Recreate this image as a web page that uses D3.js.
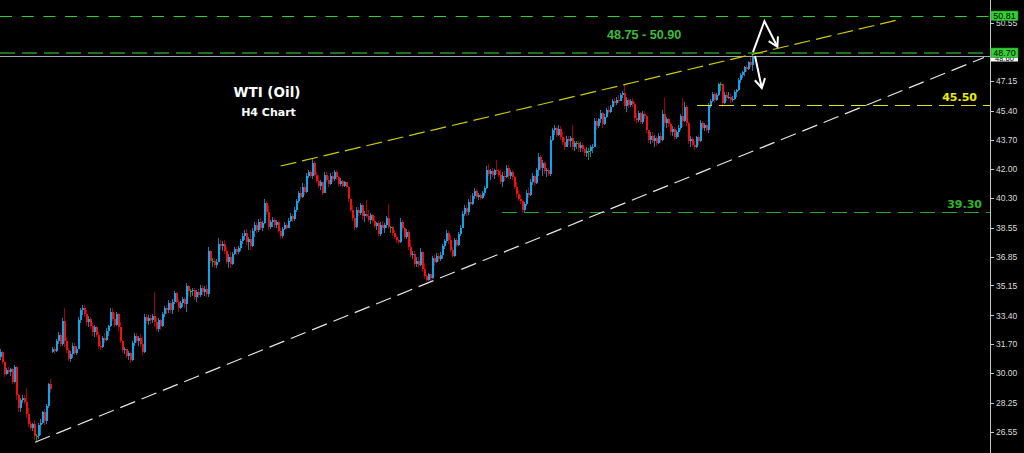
<!DOCTYPE html>
<html><head><meta charset="utf-8">
<script src="https://cdn.jsdelivr.net/npm/d3@7"></script>
<style>html,body{margin:0;padding:0;background:#000;overflow:hidden}</style>
</head><body>
<svg id="c" width="1024" height="453"></svg>
<script>
// ---------- DATA (WTI H4) ----------
const opens=[
30.95,31.25,30.65,29.95,30.20,30.05,30.25,29.50,30.35,28.70,
27.95,28.40,28.55,28.30,27.60,27.00,26.80,27.00,26.30,26.30,
26.95,27.10,27.70,27.20,28.05,29.35,31.25,31.45,31.30,31.90,
32.25,31.70,33.05,31.90,31.35,30.85,31.15,31.60,31.20,31.45,
33.10,33.70,33.85,33.45,33.00,33.20,32.75,32.40,32.70,32.25,
31.60,31.55,32.05,31.95,32.50,32.75,33.60,33.20,32.85,33.45,
32.70,31.90,31.35,31.40,31.00,31.20,30.75,31.75,32.20,31.90,
32.05,31.70,31.25,33.30,33.05,33.25,33.10,33.35,33.00,32.60,
33.10,32.75,33.50,33.80,33.70,34.15,33.70,34.20,34.70,34.20,
33.85,34.10,34.35,34.05,35.10,34.80,34.80,34.90,34.45,34.75,
34.60,35.00,34.75,34.95,34.65,37.20,36.60,36.60,36.35,36.55,
37.60,37.45,37.60,37.15,36.55,36.85,36.40,37.00,37.30,37.10,
37.35,37.75,38.05,38.25,37.70,37.85,37.45,38.35,38.70,38.40,
38.90,38.55,38.80,40.00,39.45,38.60,38.85,39.00,38.70,38.90,
38.35,38.05,38.45,38.70,38.55,38.95,39.25,39.05,39.60,40.10,
40.55,40.35,40.95,40.65,41.55,41.80,41.60,42.35,41.65,41.30,
41.00,41.20,40.60,41.65,41.35,41.10,41.60,41.40,41.80,41.50,
41.10,41.30,41.00,41.20,40.95,40.20,39.60,39.10,38.60,39.55,
39.40,39.85,39.20,39.35,39.25,39.00,39.30,38.95,38.65,38.80,
38.15,38.70,38.55,38.70,39.10,38.60,38.60,38.20,38.00,37.80,
37.70,38.90,38.55,38.00,38.30,37.40,36.95,37.00,36.40,36.60,
36.35,37.10,36.10,35.70,35.50,35.80,35.60,36.75,36.50,36.90,
36.70,36.95,37.45,37.75,38.25,37.80,37.25,36.90,37.80,37.55,
38.15,38.55,39.35,39.70,39.45,40.05,39.95,40.40,40.70,40.35,
40.45,40.30,40.55,40.85,41.95,41.70,41.85,41.65,41.90,41.85,
41.65,41.25,41.60,41.50,42.05,41.55,41.80,41.50,40.95,40.50,
40.25,40.10,39.55,39.95,40.55,40.45,41.25,41.55,41.15,41.90,
42.70,42.05,42.35,41.85,41.95,41.70,43.70,44.25,44.40,44.00,
44.35,43.85,43.55,43.30,43.75,43.60,43.80,43.30,43.50,43.50,
43.20,43.40,43.15,42.95,43.05,43.05,43.25,43.30,44.80,44.50,
44.90,45.30,44.60,45.05,45.45,45.35,45.65,45.95,45.85,46.05,
46.00,46.35,46.45,45.70,46.05,45.75,45.95,45.80,44.95,44.85,
45.25,44.75,45.20,45.10,44.25,43.70,43.95,43.65,43.80,43.50,
43.95,43.70,45.20,44.70,44.90,44.60,44.15,44.35,43.85,44.15,
44.40,45.10,44.80,45.65,44.70,43.65,43.75,43.40,43.25,43.85,
43.60,44.70,44.40,44.55,44.30,45.70,45.95,46.40,46.05,46.30,
46.95,46.95,45.85,46.35,46.15,46.20,46.05,46.10,46.50,46.60,
47.20,47.50,47.65,47.95,47.85,48.25,48.10];
const highs=[
31.45,31.30,30.70,30.30,30.35,30.30,30.30,30.50,30.40,28.80,
28.55,28.70,28.70,29.15,27.95,27.20,27.10,27.25,26.45,27.05,
27.30,27.80,27.90,28.20,29.45,29.65,31.55,31.60,32.00,32.40,
32.35,33.25,33.80,32.10,31.50,31.30,31.80,31.75,31.60,33.30,
33.85,34.00,34.00,33.70,33.35,33.30,33.00,32.85,32.80,32.40,
31.90,32.20,32.35,32.65,32.85,33.80,33.80,33.55,33.60,33.55,
33.00,31.95,31.55,31.45,31.30,31.25,31.90,32.35,32.35,32.20,
32.30,32.10,33.50,33.45,33.40,33.40,33.50,34.75,33.30,33.25,
33.20,33.60,33.95,34.00,34.30,34.25,34.35,34.85,34.75,34.30,
34.25,34.45,34.45,35.30,35.20,34.95,35.00,35.00,34.90,34.95,
35.15,35.15,35.10,35.15,37.40,37.25,36.75,36.75,36.70,37.95,
37.80,37.75,37.80,37.40,37.00,37.10,37.10,37.40,37.40,37.45,
37.85,38.20,38.40,38.45,38.00,38.40,38.50,38.85,38.85,39.05,
39.10,38.95,40.25,40.10,39.90,39.00,39.15,39.10,39.00,38.95,
38.50,38.60,38.85,38.80,39.10,39.40,39.35,39.75,40.25,40.70,
40.90,41.15,41.10,41.75,41.90,41.95,42.60,42.45,41.80,41.60,
41.35,41.25,41.80,41.80,41.60,41.75,41.80,41.90,41.95,41.55,
41.45,41.35,41.30,41.25,41.00,40.25,39.90,39.30,39.75,39.75,
40.00,39.95,39.50,40.15,39.55,39.40,39.35,39.25,38.90,38.95,
38.85,38.95,38.80,39.25,39.95,38.65,38.65,38.40,38.10,37.90,
39.10,39.00,38.60,38.45,38.40,37.80,37.15,37.20,36.80,36.80,
37.35,37.15,36.45,35.85,35.90,35.85,36.90,36.95,37.05,37.05,
37.10,37.60,37.90,38.40,38.35,38.10,37.40,37.95,37.95,38.30,
38.70,39.50,39.85,39.85,40.20,40.45,40.55,40.85,40.80,40.60,
40.55,40.70,41.00,42.15,42.30,42.00,42.05,42.00,42.50,42.00,
41.95,41.80,41.85,42.20,42.20,41.90,41.90,41.55,41.20,40.75,
40.45,40.15,40.05,40.75,40.90,41.40,41.75,41.65,42.05,42.95,
42.80,42.50,42.45,42.05,42.05,43.95,44.40,44.55,44.50,44.55,
44.50,44.15,43.85,43.90,43.95,43.95,44.55,43.65,43.60,43.65,
43.55,43.50,43.30,43.25,43.20,43.40,43.45,45.00,44.95,45.00,
45.45,45.35,45.20,45.55,45.70,45.75,46.10,46.15,46.20,46.30,
46.45,46.55,46.90,46.20,46.15,46.10,46.15,45.90,45.30,45.40,
45.35,45.40,45.40,45.15,44.30,44.15,44.15,44.00,43.95,44.10,
44.15,45.45,46.15,45.05,45.00,44.75,44.50,44.45,44.30,44.55,
45.20,46.15,45.90,45.75,44.80,43.90,43.85,43.60,43.95,44.00,
44.85,44.80,44.70,44.65,45.85,46.10,46.50,46.50,46.45,47.05,
47.10,47.00,46.50,46.50,46.50,46.40,46.25,46.60,46.70,47.30,
47.60,47.75,48.05,48.10,48.35,48.55,48.65];
const lows=[
30.80,30.55,29.75,29.90,29.95,29.85,29.35,29.45,28.45,27.75,
27.75,28.25,28.20,27.40,26.85,26.65,26.60,26.10,26.05,26.15,
26.35,27.00,26.95,27.00,27.95,28.85,31.20,31.15,31.25,31.70,
31.55,31.60,31.55,31.20,30.70,30.65,30.90,31.05,31.05,31.40,
32.95,33.40,33.30,32.80,32.70,32.60,32.20,32.15,32.10,31.45,
31.35,31.50,31.80,31.90,32.20,32.70,33.05,32.70,32.80,32.50,
31.75,31.20,31.15,30.90,30.75,30.60,30.70,31.60,31.75,31.60,
31.55,31.05,31.20,32.90,32.85,32.90,32.95,32.70,32.45,32.40,
32.55,32.70,33.30,33.45,33.55,33.55,33.45,34.05,34.10,33.60,
33.75,33.90,33.85,33.60,34.55,34.50,34.55,34.30,34.20,34.40,
34.50,34.60,34.55,34.50,34.50,36.45,36.25,36.20,36.20,36.50,
37.25,37.20,37.00,36.40,36.20,36.20,36.35,36.95,36.95,37.00,
37.20,37.60,37.80,37.55,37.25,37.25,37.40,38.00,38.20,38.30,
38.40,38.35,38.75,39.30,38.40,38.45,38.60,38.55,38.50,38.20,
37.85,37.95,38.40,38.40,38.50,38.85,38.90,38.95,39.45,40.00,
40.20,40.30,40.45,40.60,41.45,41.45,41.40,41.50,41.15,40.85,
40.75,40.45,40.55,41.20,40.95,41.05,41.20,41.30,41.35,40.95,
41.00,40.90,40.90,40.85,40.05,39.45,38.95,38.40,38.55,39.20,
39.30,39.00,38.90,39.10,38.85,38.75,38.80,38.50,38.40,38.00,
38.05,38.40,38.25,38.55,38.45,38.25,38.05,37.85,37.65,37.60,
37.65,38.40,37.85,37.90,37.25,36.80,36.70,36.25,36.25,36.20,
36.30,35.95,35.55,35.35,35.40,35.40,35.55,36.30,36.45,36.55,
36.60,36.70,37.30,37.65,37.60,37.10,36.75,36.85,37.40,37.45,
38.05,38.50,39.20,39.25,39.30,39.80,39.90,40.25,40.20,40.15,
40.15,40.20,40.40,40.80,41.55,41.35,41.50,41.40,41.70,41.50,
41.10,40.90,41.30,41.45,41.40,41.40,41.35,40.80,40.35,40.10,
39.95,39.40,39.45,39.80,40.30,40.40,41.05,41.00,41.10,41.60,
41.85,41.60,41.70,41.50,41.55,41.60,43.60,44.00,43.85,43.90,
43.70,43.40,43.10,43.25,43.40,43.30,43.10,43.05,43.15,43.00,
43.00,43.00,42.75,42.70,42.50,42.70,42.95,43.25,44.30,44.40,
44.70,44.40,44.55,45.00,45.20,45.25,45.60,45.70,45.75,45.85,
45.95,46.15,45.50,45.35,45.55,45.65,45.60,44.80,44.70,44.75,
44.60,44.65,44.90,44.10,43.50,43.45,43.50,43.30,43.35,43.45,
43.50,43.65,44.45,44.40,44.45,44.00,43.95,43.70,43.75,43.85,
44.30,44.45,44.75,44.50,43.45,43.30,43.25,43.10,43.20,43.40,
43.55,44.25,44.20,44.15,44.10,45.55,45.90,45.85,45.95,46.25,
46.55,45.65,45.80,46.00,46.10,45.85,45.90,46.05,46.20,46.55,
47.05,47.30,47.45,47.70,47.80,48.00,47.75];
const closes=[
31.25,30.65,29.95,30.20,30.05,30.25,29.50,30.35,28.70,27.95,
28.40,28.55,28.30,27.60,27.00,26.80,27.00,26.30,26.30,26.95,
27.10,27.70,27.20,28.05,29.35,29.05,31.45,31.30,31.90,32.25,
31.70,33.05,31.90,31.35,30.85,31.15,31.60,31.20,31.45,33.10,
33.70,33.85,33.45,33.00,33.20,32.75,32.40,32.70,32.25,31.60,
31.55,32.05,31.95,32.50,32.75,33.60,33.20,32.85,33.45,32.70,
31.90,31.35,31.40,31.00,31.20,30.75,31.75,32.20,31.90,32.05,
31.70,31.25,33.30,33.05,33.25,33.10,33.35,33.00,32.60,33.10,
32.75,33.50,33.80,33.70,34.15,33.70,34.20,34.70,34.20,33.85,
34.10,34.35,34.05,35.10,34.80,34.80,34.90,34.45,34.75,34.60,
35.00,34.75,34.95,34.65,37.20,36.60,36.60,36.35,36.55,37.60,
37.45,37.60,37.15,36.55,36.85,36.40,37.00,37.30,37.10,37.35,
37.75,38.05,38.25,37.70,37.85,37.45,38.35,38.70,38.40,38.90,
38.55,38.80,40.00,39.45,38.60,38.85,39.00,38.70,38.90,38.35,
38.05,38.45,38.70,38.55,38.95,39.25,39.05,39.60,40.10,40.55,
40.35,40.95,40.65,41.55,41.80,41.60,42.35,41.65,41.30,41.00,
41.20,40.60,41.65,41.35,41.10,41.60,41.40,41.80,41.50,41.10,
41.30,41.00,41.20,40.95,40.20,39.60,39.10,38.60,39.55,39.40,
39.85,39.20,39.35,39.25,39.00,39.30,38.95,38.65,38.80,38.15,
38.70,38.55,38.70,39.10,38.60,38.60,38.20,38.00,37.80,37.70,
38.90,38.55,38.00,38.30,37.40,36.95,37.00,36.40,36.60,36.35,
37.10,36.10,35.70,35.50,35.80,35.60,36.75,36.50,36.90,36.70,
36.95,37.45,37.75,38.25,37.80,37.25,36.90,37.80,37.55,38.15,
38.55,39.35,39.70,39.45,40.05,39.95,40.40,40.70,40.35,40.45,
40.30,40.55,40.85,41.95,41.70,41.85,41.65,41.90,41.85,41.65,
41.25,41.60,41.50,42.05,41.55,41.80,41.50,40.95,40.50,40.25,
40.10,39.55,39.95,40.55,40.45,41.25,41.55,41.15,41.90,42.70,
42.05,42.35,41.85,41.95,41.70,43.70,44.25,44.40,44.00,44.35,
43.85,43.55,43.30,43.75,43.60,43.80,43.30,43.50,43.50,43.20,
43.40,43.15,42.95,43.05,43.05,43.25,43.30,44.80,44.50,44.90,
45.30,44.60,45.05,45.45,45.35,45.65,45.95,45.85,46.05,46.00,
46.35,46.45,45.70,46.05,45.75,45.95,45.80,44.95,44.85,45.25,
44.75,45.20,45.10,44.25,43.70,43.95,43.65,43.80,43.50,43.95,
43.70,45.20,44.70,44.90,44.60,44.15,44.35,43.85,44.15,44.40,
45.10,44.80,45.65,44.70,43.65,43.75,43.40,43.25,43.85,43.60,
44.70,44.40,44.55,44.30,45.70,45.95,46.40,46.05,46.30,46.95,
46.95,45.85,46.35,46.15,46.20,46.05,46.10,46.50,46.60,47.20,
47.50,47.65,47.95,47.85,48.25,48.10,48.55];

const tickValues=[26.55,28.25,30.00,31.70,33.40,35.15,36.85,38.55,40.30,42.00,43.70,45.40,47.15,50.55];
const zoneValues=[50.96,48.79];          // target zone lines
const zoneLabels=["50.81","48.70"];
const levelValues=[45.74,39.46];         // horizontal support levels
const levelLabels=["45.50","39.30"];
const levelStarts=[348.5,251];           // bar index where each level starts
const bidPrice=48.60, bidLabel="48.60";
const upperTrend=[[140.35,42.16],[449.5,50.75]];
const lowerTrend=[[17.5,25.95],[492,48.53]];
const arrowUp=[[376.5,48.85],[382.2,50.66],[388.7,49.16]];
const arrowDown=[[377.5,48.62],[380.9,46.74]];
const zoneText="48.75 - 50.90";
const title="WTI (Oil)", subtitle="H4 Chart";

// ---------- DRAW ----------
const svg=d3.select("#c");
svg.append("rect").attr("width",1024).attr("height",453).attr("fill","#000");
const axisX=990;
const x=d3.scaleLinear().domain([0,376]).range([0,752]);
const y=d3.scaleLinear().domain([26.55,47.15]).range([432,81]);

const defs=svg.append("defs");
defs.append("clipPath").attr("id","plot").append("rect").attr("x",0).attr("y",0).attr("width",axisX).attr("height",453);
defs.append("marker").attr("id","ah").attr("viewBox","-11 -7 13 14")
  .attr("refX",0).attr("refY",0).attr("markerWidth",13).attr("markerHeight",14)
  .attr("markerUnits","userSpaceOnUse").attr("orient","auto")
  .append("path").attr("d","M-9,-5.2L0,0L-9,5.2").attr("fill","none")
  .attr("stroke","#fff").attr("stroke-width",2);

const plot=svg.append("g").attr("clip-path","url(#plot)");

// candles
const bars=plot.append("g").attr("shape-rendering","crispEdges");
const idx=d3.range(opens.length);
function kind(i){return closes[i]>opens[i]?"up":(closes[i]<opens[i]?"dn":"doji");}
const wickCol={up:"#2b78aa",dn:"#a30000",doji:"#1a8f1a"};
const bodyCol={up:"#0ba6ee",dn:"#ec1212",doji:"#22b222"};
bars.selectAll("rect.w").data(idx).join("rect").attr("class","w")
  .attr("x",i=>Math.round(x(i))).attr("width",1)
  .attr("y",i=>y(highs[i])).attr("height",i=>Math.max(1,y(lows[i])-y(highs[i])))
  .attr("fill",i=>wickCol[kind(i)]);
bars.selectAll("rect.b").data(idx).join("rect").attr("class","b")
  .attr("x",i=>Math.round(x(i))).attr("width",2)
  .attr("y",i=>y(Math.max(opens[i],closes[i])))
  .attr("height",i=>Math.max(1,Math.abs(y(opens[i])-y(closes[i]))))
  .attr("fill",i=>bodyCol[kind(i)]);

// zone lines
const zoneColors=["#2fd02f","#1d731d"], zoneWidths=[1,2], zoneDash=["12,9.7","15,7"];
zoneValues.forEach((v,k)=>{
  const yy=Math.round(y(v))+(zoneWidths[k]===1?0.5:0);
  plot.append("line").attr("x1",0).attr("x2",axisX).attr("y1",yy).attr("y2",yy)
   .attr("stroke",zoneColors[k]).attr("stroke-width",zoneWidths[k]).attr("stroke-dasharray",zoneDash[k]);
});
// bid line
plot.append("line").attr("x1",0).attr("x2",axisX).attr("y1",Math.round(y(bidPrice))+0.5).attr("y2",Math.round(y(bidPrice))+0.5)
  .attr("stroke","#9ea7b8").attr("stroke-width",1);

// horizontal levels
const levelColors=["#e4e400","#25a825"];
levelValues.forEach((v,k)=>{
  plot.append("line").attr("x1",x(levelStarts[k])).attr("x2",axisX)
   .attr("y1",Math.round(y(v))+0.5).attr("y2",Math.round(y(v))+0.5)
   .attr("stroke",levelColors[k]).attr("stroke-width",1).attr("stroke-dasharray","15,7");
});

// trend lines
const tl=d3.line().x(d=>x(d[0])).y(d=>y(d[1]));
plot.append("path").attr("d",tl(upperTrend)).attr("stroke","#cccc00").attr("stroke-width",1.2)
  .attr("fill","none").attr("stroke-dasharray","16,6");
plot.append("path").attr("d",tl(lowerTrend)).attr("stroke","#e6e6e6").attr("stroke-width",1.2)
  .attr("fill","none").attr("stroke-dasharray","16,7");

// arrows
[arrowUp,arrowDown].forEach(a=>{
  plot.append("path").attr("d",tl(a)).attr("stroke","#fff").attr("stroke-width",2)
   .attr("fill","none").attr("stroke-linejoin","miter").attr("marker-end","url(#ah)");
});

// texts
svg.append("text").attr("x",607).attr("y",39).text(zoneText)
  .attr("font-family","Liberation Sans, Arial, sans-serif").attr("font-weight","bold")
  .attr("font-size",12.6).attr("fill","#3bbd3b");
svg.append("text").attr("x",267).attr("y",97).attr("text-anchor","middle").text(title)
  .attr("font-family","DejaVu Sans, sans-serif").attr("font-weight","bold")
  .attr("font-size",13.5).attr("fill","#fff");
svg.append("text").attr("x",268.5).attr("y",116).attr("text-anchor","middle").text(subtitle)
  .attr("font-family","DejaVu Sans, sans-serif").attr("font-weight","bold")
  .attr("font-size",11).attr("fill","#fff");
const levelTextX=[977,982], levelTextY=[101,208], levelTextCol=["#eded00","#2db52d"];
levelLabels.forEach((t,k)=>{
  svg.append("text").attr("x",levelTextX[k]).attr("y",levelTextY[k]).attr("text-anchor","end").text(t)
   .attr("font-family","DejaVu Sans, sans-serif").attr("font-weight","bold")
   .attr("font-size",11).attr("fill",levelTextCol[k]);
});

// axis
const ax=svg.append("g").attr("transform",`translate(${axisX},0)`)
  .call(d3.axisRight(y).tickValues(tickValues).tickSize(4).tickPadding(2).tickFormat(d3.format(".2f")));
ax.select(".domain").remove();
ax.selectAll("line").attr("stroke","#c8c8c8").attr("shape-rendering","crispEdges");
ax.selectAll("text").attr("fill","#dcdcdc").attr("font-size",8.5)
  .attr("font-family","Liberation Sans, Arial, sans-serif");
svg.append("line").attr("x1",axisX+0.5).attr("x2",axisX+0.5).attr("y1",0).attr("y2",453)
  .attr("stroke","#c8c8c8").attr("stroke-width",1);

// price labels on axis
// bid label (white) partly hidden under the 48.70 label, as in the reference
const bidY=Math.round(y(bidPrice));
svg.append("rect").attr("x",axisX+1).attr("y",bidY-5).attr("width",27).attr("height",10.5).attr("fill","#fff");
svg.append("text").attr("x",axisX+14.5).attr("y",bidY+4.5).attr("text-anchor","middle").text(bidLabel)
   .attr("font-family","Liberation Sans, Arial, sans-serif").attr("font-size",7.5).attr("fill","#000");
zoneValues.forEach((v,k)=>{
  const cy=Math.round(y(v));
  svg.append("rect").attr("x",axisX+1).attr("y",cy-5).attr("width",27).attr("height",9.5)
   .attr("fill","#31d131").attr("stroke","#139013").attr("stroke-width",0.6);
  svg.append("text").attr("x",axisX+14.5).attr("y",cy+3).attr("text-anchor","middle").text(zoneLabels[k])
   .attr("font-family","Liberation Sans, Arial, sans-serif").attr("font-size",9).attr("fill","#000");
});
</script>
</body></html>
